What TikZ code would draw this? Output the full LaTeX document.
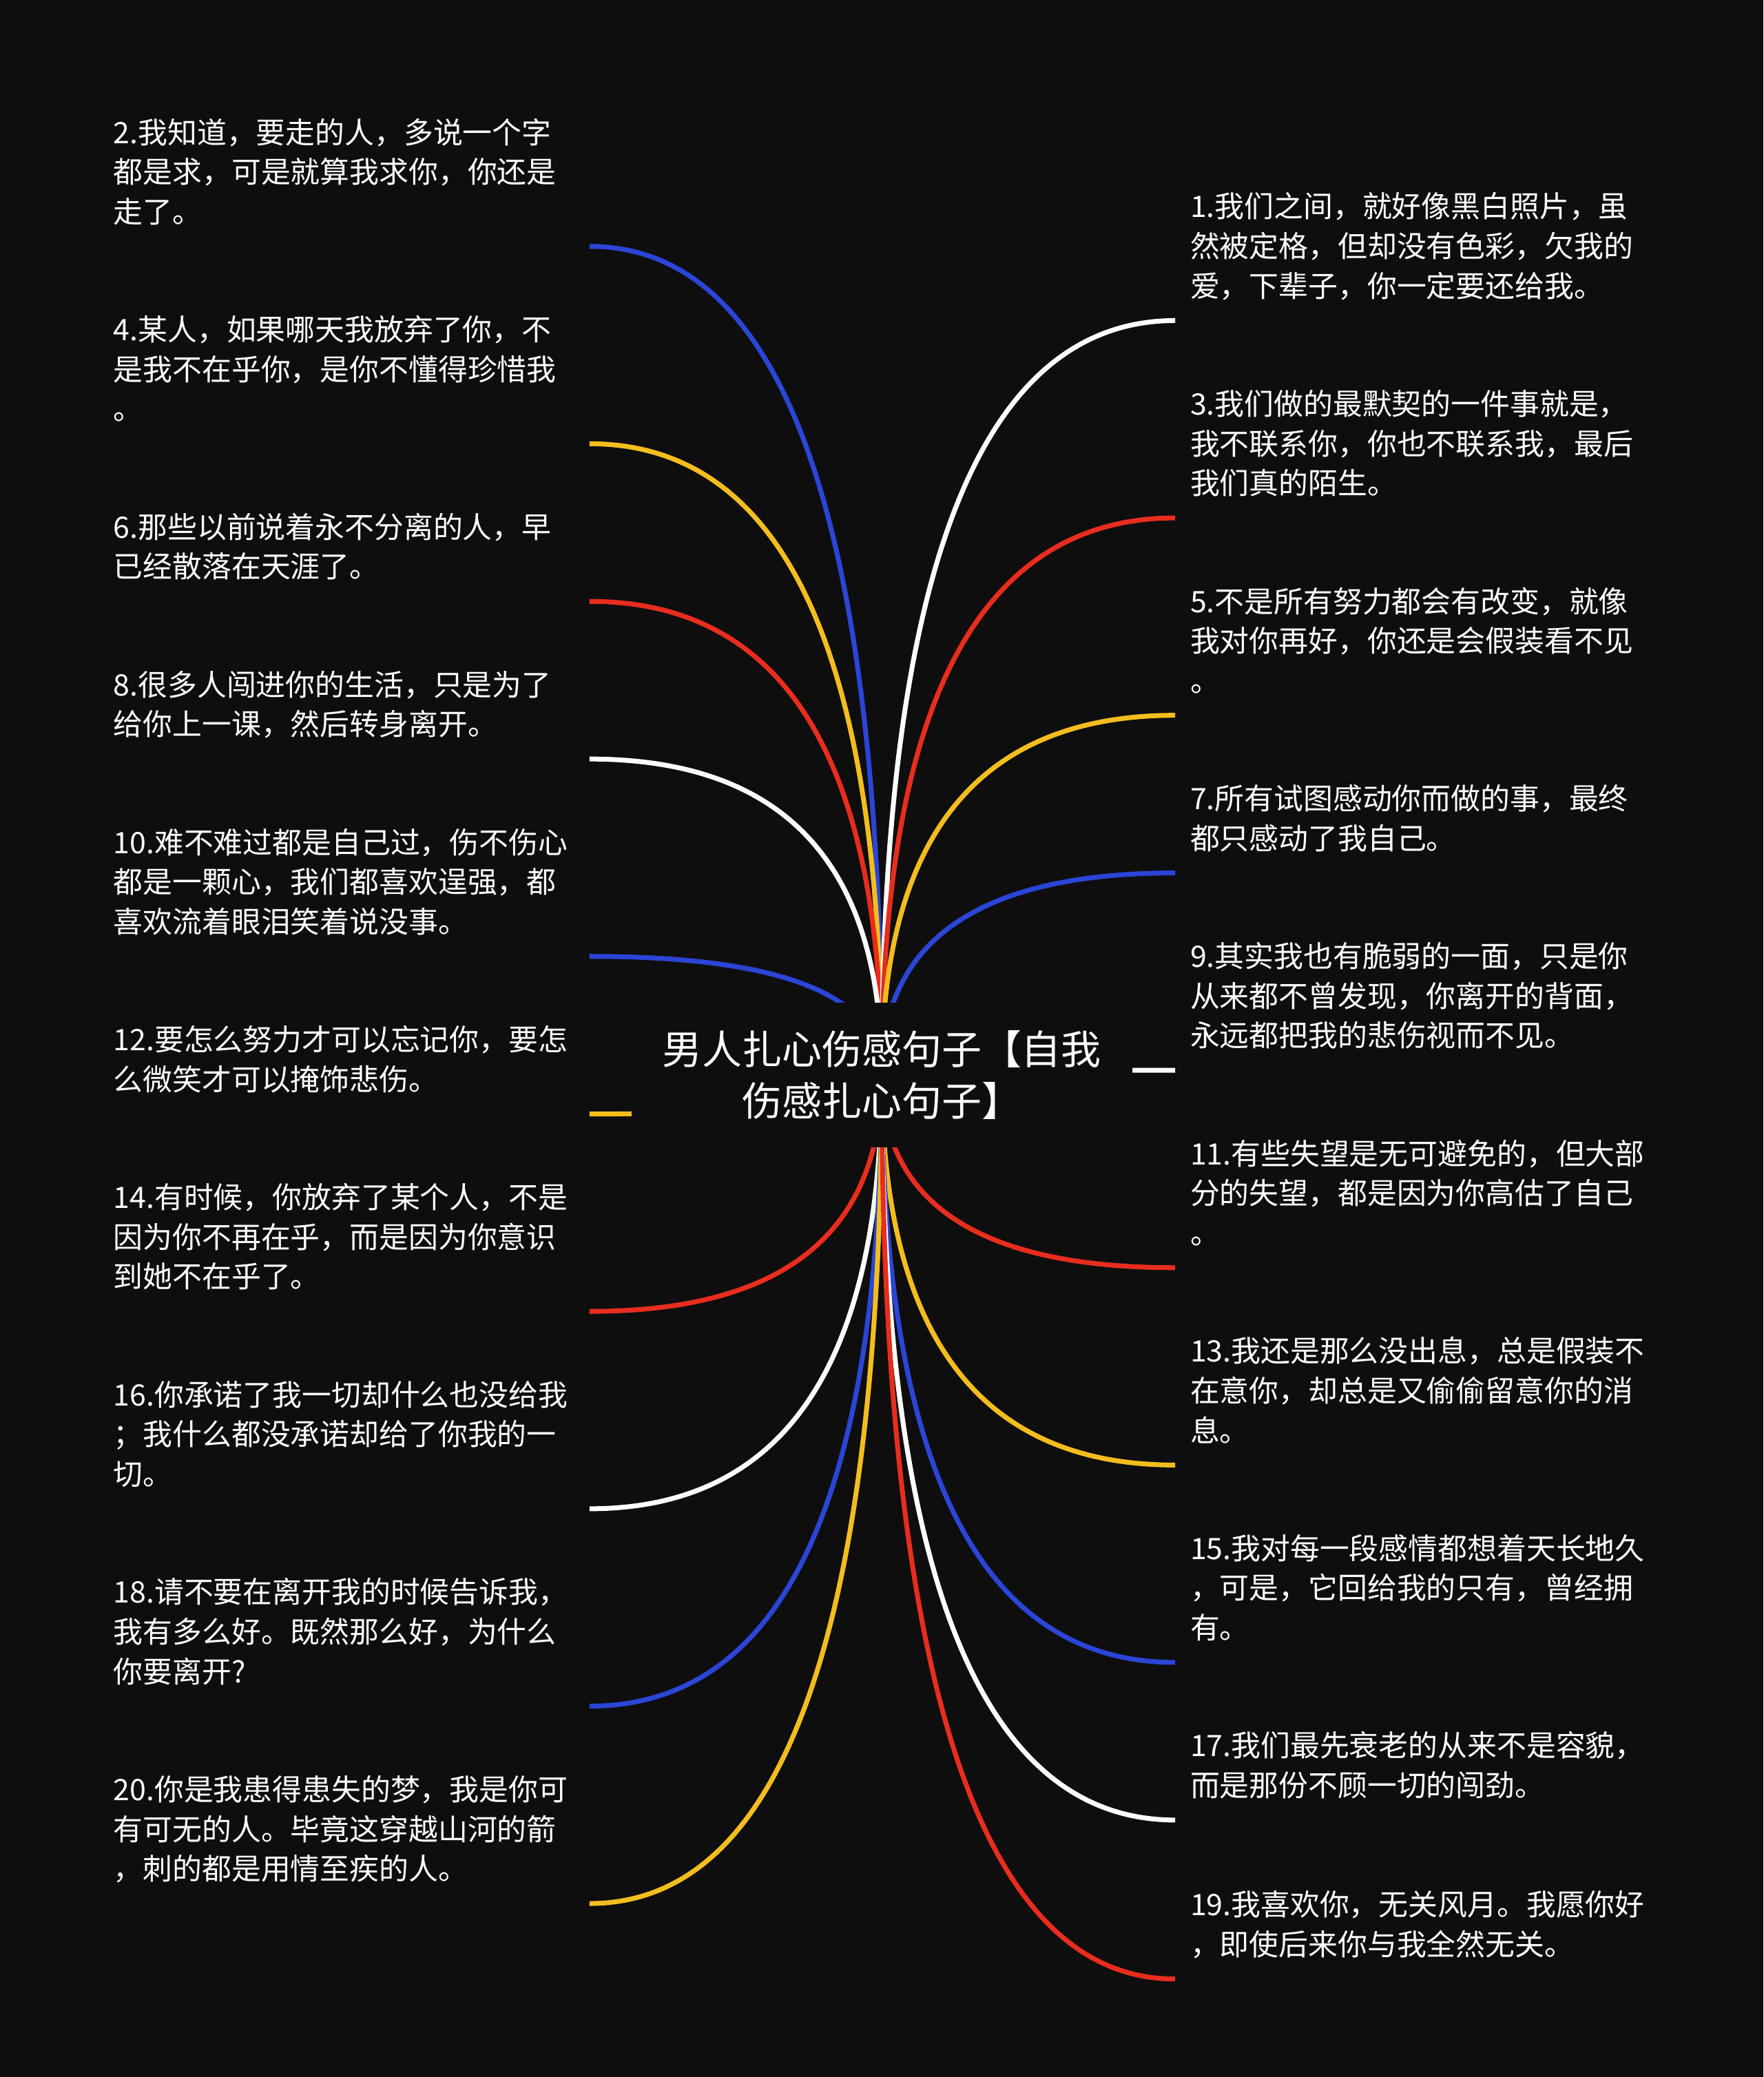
\documentclass[tikz,border=0pt]{standalone}
\usepackage{fontspec}
\setmainfont{Noto Sans CJK SC}
\usetikzlibrary{calc}
\newlength{\upx}
\setlength{\upx}{0.019234cm}
\definecolor{bgdark}{RGB}{14,14,14}
\definecolor{linkblue}{RGB}{43,69,214}
\definecolor{linkred}{RGB}{232,45,30}
\definecolor{linkyellow}{RGB}{244,189,30}
\pgfdeclarelayer{backdrop}
\pgfdeclarelayer{links}
\pgfsetlayers{backdrop,links,main}
\newcommand{\hublink}[2]{%
  \draw[link,#2] (#1) .. controls ($(#1)!2/3!(#1 -| title.center)$)
    and ($(title.center)!2/3!(title.center |- #1)$) .. (title.center);}
\tikzset{
  leafbox/.style={
    text=white,
    text width=348\upx,
    align=left,
    inner xsep=11\upx,
    inner ysep=4.66pt,
    font=\fontsize{12.2pt}{16.4pt}\selectfont,
    execute at end node=\strut
  },
  leftleaf/.style={leafbox,anchor=south east},
  rightleaf/.style={leafbox,anchor=south west},
  hubbox/.style={
    fill=bgdark,
    text=white,
    align=center,
    inner sep=0pt,
    minimum width=378\upx,
    minimum height=109\upx,
    font=\fontsize{16.5pt}{21.3pt}\selectfont
  },
  link/.style={line width=2pt},
}
\begin{document}
\begin{tikzpicture}[x=0.019234cm,y=-0.019234cm]
  \begin{pgfonlayer}{backdrop}
    \fill[bgdark] (0,0) rectangle (1331,1568);
  \end{pgfonlayer}

  \node[hubbox] (title) at (665.5,811.5) {男人扎心伤感句子【自我\\伤感扎心句子】};

  \node[leftleaf] (l2) at (445,186) {2.我知道，要走的人，多说一个字\\都是求，可是就算我求你，你还是\\走了。};
  \node[leftleaf] (l4) at (445,335) {4.某人，如果哪天我放弃了你，不\\是我不在乎你，是你不懂得珍惜我\\。};
  \node[leftleaf] (l6) at (445,454) {6.那些以前说着永不分离的人，早\\已经散落在天涯了。};
  \node[leftleaf] (l8) at (445,573) {8.很多人闯进你的生活，只是为了\\给你上一课，然后转身离开。};
  \node[leftleaf] (l10) at (445,722) {10.难不难过都是自己过，伤不伤心\\都是一颗心，我们都喜欢逞强，都\\喜欢流着眼泪笑着说没事。};
  \node[leftleaf] (l12) at (445,841) {12.要怎么努力才可以忘记你，要怎\\么微笑才可以掩饰悲伤。};
  \node[leftleaf] (l14) at (445,990) {14.有时候，你放弃了某个人，不是\\因为你不再在乎，而是因为你意识\\到她不在乎了。};
  \node[leftleaf] (l16) at (445,1139) {16.你承诺了我一切却什么也没给我\\；我什么都没承诺却给了你我的一\\切。};
  \node[leftleaf] (l18) at (445,1288) {18.请不要在离开我的时候告诉我，\\我有多么好。既然那么好，为什么\\你要离开?};
  \node[leftleaf] (l20) at (445,1437) {20.你是我患得患失的梦，我是你可\\有可无的人。毕竟这穿越山河的箭\\，刺的都是用情至疾的人。};

  \node[rightleaf] (r1) at (887,242) {1.我们之间，就好像黑白照片，虽\\然被定格，但却没有色彩，欠我的\\爱，下辈子，你一定要还给我。};
  \node[rightleaf] (r3) at (887,391) {3.我们做的最默契的一件事就是，\\我不联系你，你也不联系我，最后\\我们真的陌生。};
  \node[rightleaf] (r5) at (887,540) {5.不是所有努力都会有改变，就像\\我对你再好，你还是会假装看不见\\。};
  \node[rightleaf] (r7) at (887,659) {7.所有试图感动你而做的事，最终\\都只感动了我自己。};
  \node[rightleaf] (r9) at (887,808) {9.其实我也有脆弱的一面，只是你\\从来都不曾发现，你离开的背面，\\永远都把我的悲伤视而不见。};
  \node[rightleaf] (r11) at (887,957) {11.有些失望是无可避免的，但大部\\分的失望，都是因为你高估了自己\\。};
  \node[rightleaf] (r13) at (887,1106) {13.我还是那么没出息，总是假装不\\在意你，却总是又偷偷留意你的消\\息。};
  \node[rightleaf] (r15) at (887,1255) {15.我对每一段感情都想着天长地久\\，可是，它回给我的只有，曾经拥\\有。};
  \node[rightleaf] (r17) at (887,1374) {17.我们最先衰老的从来不是容貌，\\而是那份不顾一切的闯劲。};
  \node[rightleaf] (r19) at (887,1494) {19.我喜欢你，无关风月。我愿你好\\，即使后来你与我全然无关。};

  \begin{pgfonlayer}{links}
    \hublink{l2.south east}{linkblue}
    \hublink{l4.south east}{linkyellow}
    \hublink{l6.south east}{linkred}
    \hublink{l8.south east}{white}
    \hublink{l10.south east}{linkblue}
    \hublink{l12.south east}{linkyellow}
    \hublink{l14.south east}{linkred}
    \hublink{l16.south east}{white}
    \hublink{l18.south east}{linkblue}
    \hublink{l20.south east}{linkyellow}
    \hublink{r1.south west}{white}
    \hublink{r3.south west}{linkred}
    \hublink{r5.south west}{linkyellow}
    \hublink{r7.south west}{linkblue}
    \hublink{r9.south west}{white}
    \hublink{r11.south west}{linkred}
    \hublink{r13.south west}{linkyellow}
    \hublink{r15.south west}{linkblue}
    \hublink{r17.south west}{white}
    \hublink{r19.south west}{linkred}
  \end{pgfonlayer}
\end{tikzpicture}
\end{document}
